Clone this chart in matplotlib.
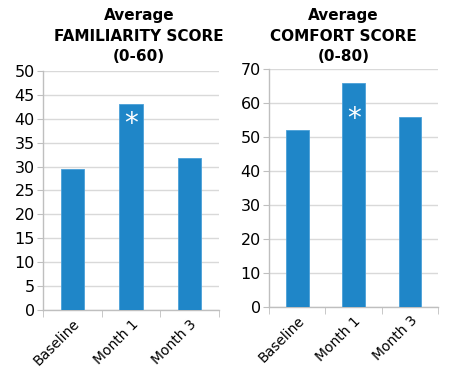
import numpy as np
import matplotlib.pyplot as plt

categories = ['Baseline', 'Month 1', 'Month 3']
familiarity = [29.5, 43.0, 31.7]
comfort = [52.0, 66.0, 55.8]
titles = ['Average\nFAMILIARITY SCORE\n(0-60)', 'Average\nCOMFORT SCORE\n(0-80)']
ylims = [(0, 50, 5), (0, 70, 10)]
star_vals = [39.0, 55.3]  # where the white asterisk sits on Month 1

bar_color = '#1F86C8'
grid_color = '#D9D9D9'
spine_color = '#BFBFBF'

fig = plt.figure(figsize=(4.5, 3.7), dpi=100)
ax1 = fig.add_axes([0.0956, 0.1622, 0.3911, 0.646])
ax2 = fig.add_axes([0.598, 0.171, 0.3756, 0.6416])

x = np.arange(len(categories))
for ax, vals, (lo, hi, step), star in zip([ax1, ax2], [familiarity, comfort], ylims, star_vals):
    ax.bar(x, vals, width=0.4, color=bar_color, edgecolor='#4AA0D8', linewidth=0.6, zorder=3)
    ax.set_xlim(-0.5, len(categories) - 0.5)
    ax.set_ylim(lo, hi)
    ax.set_yticks(np.arange(lo, hi + step, step))
    ax.yaxis.grid(True, color=grid_color, linewidth=1, zorder=0)
    ax.set_xticks(x)
    ax.set_xticklabels(categories, rotation=45, ha='right', rotation_mode='anchor', fontsize=10)
    ax.set_xticks(np.arange(-0.5, len(categories), 1), minor=True)
    ax.tick_params(axis='x', which='major', length=0, pad=5)
    ax.tick_params(axis='x', which='minor', length=5, color=spine_color, direction='out')
    ax.tick_params(axis='y', length=4, color=spine_color, labelsize=11.5, pad=2)
    for s in ['top', 'right']:
        ax.spines[s].set_visible(False)
    for s in ['left', 'bottom']:
        ax.spines[s].set_color(spine_color)
        ax.spines[s].set_linewidth(1)
    ax.text(1, star, '*', color='white', fontsize=20, ha='center', va='center', zorder=4)

fig.text(0.309, 0.978, titles[0], ha='center', va='top', fontsize=11,
         fontweight='bold', linespacing=1.45)
fig.text(0.763, 0.978, titles[1], ha='center', va='top', fontsize=11,
         fontweight='bold', linespacing=1.45)

fig.savefig('out.png', dpi=100)
